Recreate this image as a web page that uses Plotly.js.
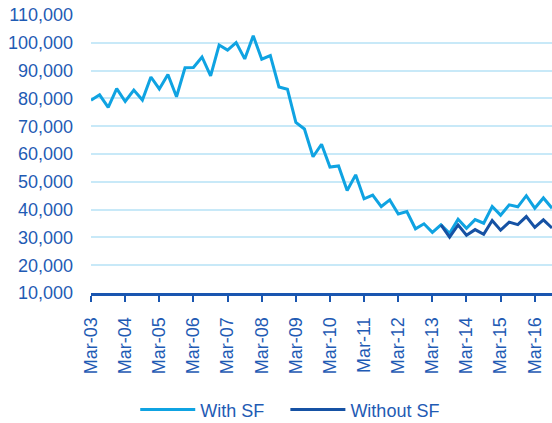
<!DOCTYPE html>
<html>
<head>
<meta charset="utf-8">
<script src="https://cdn.plot.ly/plotly-3.0.1.min.js"></script>
<style>html,body{margin:0;padding:0;background:#fff;}#chart{width:552px;height:423px;}</style>
</head>
<body>
<div id="chart"></div>
<script>
// Quarterly dates (end-of-quarter months)
const quarters = [
  '2003-03','2003-06','2003-09','2003-12',
  '2004-03','2004-06','2004-09','2004-12',
  '2005-03','2005-06','2005-09','2005-12',
  '2006-03','2006-06','2006-09','2006-12',
  '2007-03','2007-06','2007-09','2007-12',
  '2008-03','2008-06','2008-09','2008-12',
  '2009-03','2009-06','2009-09','2009-12',
  '2010-03','2010-06','2010-09','2010-12',
  '2011-03','2011-06','2011-09','2011-12',
  '2012-03','2012-06','2012-09','2012-12',
  '2013-03','2013-06','2013-09','2013-12',
  '2014-03','2014-06','2014-09','2014-12',
  '2015-03','2015-06','2015-09','2015-12',
  '2016-03','2016-06','2016-09'
];
const withSF = [
  79300, 81300, 76800, 83500,
  78900, 83000, 79400, 87700,
  83400, 88600, 80600, 91000,
  91100, 94900, 88100, 99200,
  97400, 100100, 94200, 102500,
  94100, 95400, 84100, 83300,
  71400, 69000, 59000, 63500,
  55300, 55700, 46900, 52500,
  43900, 45200, 41100, 43500,
  38400, 39300, 33100, 34900,
  31800, 34500, 31500, 36500,
  33300, 36400, 35100, 41100,
  38000, 41700, 41000, 45000,
  40500, 44200, 40500
];
const withoutQuarters = [
  '2013-06','2013-09','2013-12',
  '2014-03','2014-06','2014-09','2014-12',
  '2015-03','2015-06','2015-09','2015-12',
  '2016-03','2016-06','2016-09'
];
const withoutSF = [
  34500, 30100, 34500,
  30800, 32800, 31100, 36100,
  32600, 35500, 34600, 37500,
  33600, 36300, 33400
];
const seriesNames = ['With SF', 'Without SF'];

const txt = '#1f5bb4';
const traces = [
  {x: quarters, y: withSF, name: seriesNames[0], type: 'scatter', mode: 'lines',
   line: {color: '#0fa3e2', width: 3}, legend: 'legend'},
  {x: withoutQuarters, y: withoutSF, name: seriesNames[1], type: 'scatter', mode: 'lines',
   line: {color: '#1652a4', width: 3}, legend: 'legend2'}
];
const legendBase = {orientation: 'h', xref: 'container', yref: 'container', xanchor: 'left',
  y: 0.031, yanchor: 'middle', itemwidth: 55, font: {size: 18, color: txt},
  bgcolor: 'rgba(0,0,0,0)'};
const layout = {
  width: 552, height: 423,
  margin: {l: 91, r: 0, t: 15, b: 130},
  paper_bgcolor: '#ffffff', plot_bgcolor: '#ffffff',
  font: {family: '"Liberation Sans", Arial, sans-serif', size: 18, color: txt},
  showlegend: true,
  legend: Object.assign({}, legendBase, {x: 0.245}),
  legend2: Object.assign({}, legendBase, {x: 0.517}),
  xaxis: {
    type: 'date', range: ['2003-03-01', '2016-09-01'],
    tick0: '2003-03-01', dtick: 'M12', tickformat: '%b-%y', tickangle: -90,
    showgrid: false, zeroline: false,
    showline: true, linecolor: '#1a56b0', linewidth: 3,
    ticks: 'outside', ticklen: 6, tickwidth: 2, tickcolor: '#1a56b0',
    ticklabelstandoff: 8,
    tickfont: {size: 18, color: txt}, fixedrange: true
  },
  yaxis: {
    range: [10000, 110000], dtick: 10000, tick0: 10000, tickformat: ',d',
    showgrid: true, gridcolor: '#c8e9f8', gridwidth: 2, zeroline: false,
    showline: false, ticks: '', ticklabelstandoff: 17,
    tickfont: {size: 18, color: txt}, fixedrange: true
  }
};
Plotly.newPlot('chart', traces, layout, {displayModeBar: false, staticPlot: true});
</script>
</body>
</html>
